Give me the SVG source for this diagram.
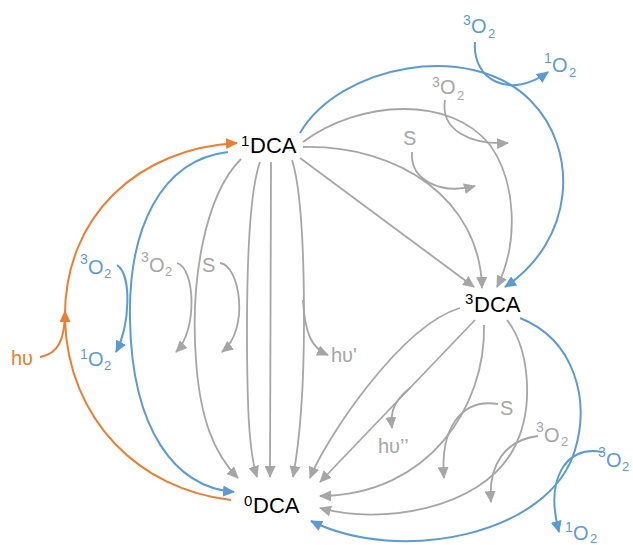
<svg xmlns="http://www.w3.org/2000/svg" width="633" height="545" viewBox="0 0 633 545">
<style>
text{font-family:"Liberation Sans",Arial,sans-serif;}
.node{font-size:22px;fill:#000;}
.nsup{font-size:15px;}
.lab{font-size:20px;}
.sup{font-size:14px;}
.sub{font-size:13px;}
.g{fill:#A6A6A6;}
.b{fill:#5B9BD5;}
.o{fill:#ED7D31;}
.cg{fill:none;stroke:#A6A6A6;stroke-width:1.8;marker-end:url(#ag);}
.cb{fill:none;stroke:#5B9BD5;stroke-width:2;marker-end:url(#ab);}
.co{fill:none;stroke:#ED7D31;stroke-width:2;marker-end:url(#ao);}
.con{fill:none;stroke:#ED7D31;stroke-width:2;}
</style>
<defs>
<marker id="ag" markerUnits="userSpaceOnUse" markerWidth="13" markerHeight="11" refX="11" refY="5.5" orient="auto"><path d="M0,0 L12,5.5 L0,11 z" fill="#A6A6A6"/></marker>
<marker id="ab" markerUnits="userSpaceOnUse" markerWidth="13" markerHeight="11" refX="11" refY="5.5" orient="auto"><path d="M0,0 L12,5.5 L0,11 z" fill="#5B9BD5"/></marker>
<marker id="ao" markerUnits="userSpaceOnUse" markerWidth="13" markerHeight="11" refX="11" refY="5.5" orient="auto"><path d="M0,0 L12,5.5 L0,11 z" fill="#ED7D31"/></marker>
</defs>
<rect width="633" height="545" fill="#fff"/>
<g id="connectors">
<path class="con" d="M231,500 C140,490 68,420 65,320"/>
<path class="co" d="M65,320 C63,215 140,148 237,143"/>
<path class="co" d="M40,357 C58,354 65,340 65,311"/>
<path class="cb" d="M228,152 C160,160 128,230 130,320 C132,430 175,487 234,492"/>
<path class="cb" d="M117,265 C132,275 130,325 116,352"/>
<path class="cg" d="M241,159 C205,195 190,280 196,360 C200,420 215,455 238,478"/>
<path class="cg" d="M260,162 C250,190 247,260 247,330 C247,420 250,455 257,477"/>
<path class="cg" d="M271,162 L270,477"/>
<path class="cg" d="M292,160 C300,185 304,240 304,320 C304,400 298,450 293,477"/>
<path class="cg" d="M303,300 C305,335 312,348 328,355"/>
<path class="cg" d="M177,263 C195,268 198,330 176,352"/>
<path class="cg" d="M220,263 C240,265 250,330 222,352"/>
<path class="cb" d="M300,133 C340,65 470,40 530,100 C580,150 575,240 505,287"/>
<path class="cb" d="M475,42 C472,80 510,100 548,72"/>
<path class="cg" d="M303,142 C360,100 450,95 490,145 C515,180 520,240 497,287"/>
<path class="cg" d="M303,147 C400,145 480,200 482,288"/>
<path class="cg" d="M300,158 L474,287"/>
<path class="cg" d="M445,100 C440,130 470,145 508,143"/>
<path class="cg" d="M412,152 C410,180 440,195 475,186"/>
<path class="cg" d="M460,308 C400,326 325,440 310,478"/>
<path class="cg" d="M475,320 L320,482"/>
<path class="cg" d="M410,388 C395,400 390,410 392,428"/>
<path class="cg" d="M484,325 C486,405 430,495 320,496"/>
<path class="cg" d="M498,404 C460,398 440,430 444,478"/>
<path class="cg" d="M507,320 C530,350 535,410 513,450 C480,510 380,525 320,508"/>
<path class="cg" d="M538,436 C505,440 488,465 491,502"/>
<path class="cb" d="M520,318 C575,340 590,400 575,450 C550,535 400,565 311,521"/>
<path class="cb" d="M602,452 C565,445 545,480 559,532"/>
</g>
<g id="n1DCA"><text class="node"><tspan class="nsup" x="241" y="146">1</tspan><tspan x="250" y="153">DCA</tspan></text></g>
<g id="n3DCA"><text class="node"><tspan class="nsup" x="465" y="304">3</tspan><tspan x="474" y="312">DCA</tspan></text></g>
<g id="n0DCA"><text class="node"><tspan class="nsup" x="244" y="506">0</tspan><tspan x="253" y="513">DCA</tspan></text></g>
<g id="labels">
<text class="lab o" x="11" y="365">hυ</text>
<text class="lab b"><tspan class="sup" x="80" y="264">3</tspan><tspan x="88" y="274">O</tspan><tspan class="sub" x="104" y="278">2</tspan></text>
<text class="lab b"><tspan class="sup" x="80" y="359">1</tspan><tspan x="88" y="366">O</tspan><tspan class="sub" x="104" y="370">2</tspan></text>
<text class="lab g"><tspan class="sup" x="141" y="262">3</tspan><tspan x="149" y="272">O</tspan><tspan class="sub" x="165" y="276">2</tspan></text>
<text class="lab g" x="202" y="272">S</text>
<text class="lab g" x="331" y="362">hυ'</text>
<text class="lab b"><tspan class="sup" x="463" y="25">3</tspan><tspan x="471" y="33">O</tspan><tspan class="sub" x="488" y="38">2</tspan></text>
<text class="lab b"><tspan class="sup" x="544" y="63">1</tspan><tspan x="552" y="72">O</tspan><tspan class="sub" x="569" y="77">2</tspan></text>
<text class="lab g"><tspan class="sup" x="432" y="87">3</tspan><tspan x="440" y="94">O</tspan><tspan class="sub" x="457" y="100">2</tspan></text>
<text class="lab g" x="403" y="145">S</text>
<text class="lab g" x="378" y="453">hυ’’</text>
<text class="lab g" x="500" y="415">S</text>
<text class="lab g"><tspan class="sup" x="536" y="432">3</tspan><tspan x="544" y="442">O</tspan><tspan class="sub" x="561" y="446">2</tspan></text>
<text class="lab b"><tspan class="sup" x="598" y="457">3</tspan><tspan x="606" y="467">O</tspan><tspan class="sub" x="622" y="471">2</tspan></text>
<text class="lab b"><tspan class="sup" x="565" y="532">1</tspan><tspan x="573" y="540">O</tspan><tspan class="sub" x="590" y="543">2</tspan></text>
</g>
</svg>
